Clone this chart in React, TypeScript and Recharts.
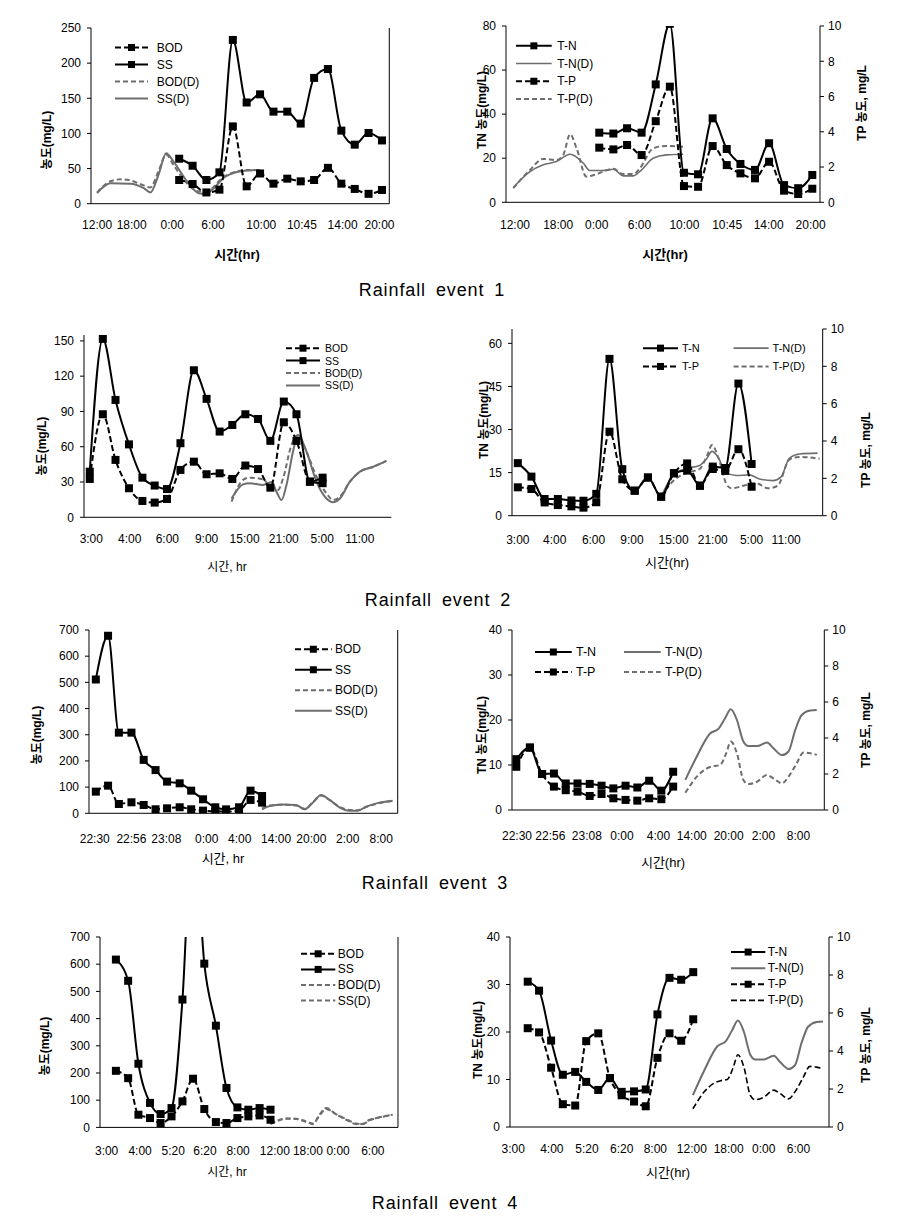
import React from 'react';
import { ComposedChart, Line, XAxis, YAxis, Legend } from 'recharts';

type Pt = [number, number];

// ---------- Rainfall event 1 : BOD / SS ----------
const ev1OrgTickPos = [0.15, 1.0, 2.0, 3.0, 4.19, 5.19, 6.19, 7.1];
const ev1TickLabels = ['12:00', '18:00', '0:00', '6:00', '10:00', '10:45', '14:00', '20:00'];
const ev1OrgSlots = [2.17, 2.5, 2.84, 3.16, 3.49, 3.83, 4.16, 4.49, 4.83, 5.16, 5.49, 5.83, 6.16, 6.49, 6.83, 7.16];
const ev1BOD = [33.7, 28, 16, 20, 110, 24.7, 43, 28.5, 35.6, 31.8, 33.7, 51, 28.5, 21, 14, 19.5];
const ev1SS = [64, 54, 33.7, 44.6, 233, 144, 155.6, 131, 131, 114, 179, 191.6, 104, 84, 100.6, 90];
const ev1SSD: Pt[] = [[0.15, 15], [0.48, 29], [0.97, 28.5], [1.3, 22], [1.46, 16], [1.66, 41], [1.85, 71.6], [2.03, 60], [2.36, 32], [2.65, 15], [2.81, 14], [3.02, 22], [3.26, 36.5], [3.59, 45], [3.92, 47.4], [4.16, 48]];
const ev1BODD: Pt[] = [[0.15, 16], [0.48, 32], [0.72, 34.6], [0.97, 33], [1.3, 26], [1.46, 23], [1.66, 46], [1.85, 70], [2.03, 55], [2.36, 29], [2.65, 17.5], [2.93, 20], [3.18, 34], [3.59, 46], [3.92, 48], [4.16, 48]];

// ---------- Rainfall event 1 : T-N / T-P ----------
const ev1NutTickPos = [0.21, 1.22, 2.12, 3.12, 4.17, 5.17, 6.14, 7.12];
const ev1NutSlots = [2.18, 2.51, 2.83, 3.17, 3.5, 3.83, 4.16, 4.49, 4.83, 5.16, 5.48, 5.82, 6.15, 6.5, 6.83, 7.16];
const ev1TN = [31.6, 31.2, 33.6, 31.6, 53.5, 81, 13.4, 12.7, 38.1, 24.2, 17.4, 14.7, 26.8, 7.8, 6.4, 12.4];
const ev1TP = [3.1, 3.0, 3.25, 2.68, 4.6, 6.56, 0.92, 0.88, 3.19, 2.11, 1.64, 1.36, 2.3, 0.66, 0.47, 0.77];
const ev1TND: Pt[] = [[0.17, 6.7], [0.56, 13.9], [0.87, 17], [1.18, 18.5], [1.5, 21.8], [1.81, 17.7], [1.96, 14.4], [2.27, 14.4], [2.51, 15], [2.74, 12], [2.98, 12], [3.13, 14], [3.44, 20], [3.75, 21.5], [4.14, 21.8]];
const ev1TPD: Pt[] = [[0.17, 0.8], [0.56, 1.83], [0.87, 2.46], [1.18, 2.4], [1.34, 2.7], [1.5, 3.86], [1.65, 3.06], [1.88, 1.46], [2.12, 1.6], [2.51, 1.9], [2.74, 1.6], [2.98, 1.6], [3.13, 1.93], [3.44, 3.06], [3.75, 3.2], [4.14, 3.15]];

// ---------- Rainfall event 2 : BOD / SS ----------
const ev2TickLabels = ['3:00', '4:00', '6:00', '9:00', '15:00', '21:00', '5:00', '11:00'];
const ev2OrgTickPos = [0.19, 1.19, 2.17, 3.19, 4.18, 5.2, 6.2, 7.18];
const ev2OrgSlots = [0.15, 0.49, 0.82, 1.17, 1.52, 1.84, 2.16, 2.51, 2.86, 3.19, 3.53, 3.86, 4.2, 4.53, 4.85, 5.2, 5.53, 5.88, 6.21];
const ev2SS = [38.8, 151.7, 99.8, 62, 33.7, 27, 24, 63, 125, 100.7, 72.9, 78.5, 87.6, 83.6, 65, 98.4, 87.6, 30.3, 33.7];
const ev2BOD = [32.6, 87.6, 48.8, 24.7, 13.9, 12.5, 15.6, 40.3, 47.3, 36.6, 37.4, 32.6, 44, 41, 25.2, 80.8, 65, 30.3, 29];
const ev2SSD: Pt[] = [[3.84, 16], [4.14, 28], [4.31, 29], [4.66, 27.5], [4.88, 30], [5.01, 21.8], [5.14, 14.7], [5.27, 27.5], [5.44, 55.9], [5.57, 70], [5.79, 55.9], [6.05, 30.3], [6.31, 16], [6.48, 12.8], [6.66, 16], [6.92, 30.3], [7.18, 38.8], [7.53, 43], [7.87, 48]];
const ev2BODD: Pt[] = [[3.84, 13.3], [4.14, 31.8], [4.31, 33.7], [4.66, 32.3], [4.88, 24.7], [5.05, 23.2], [5.18, 33], [5.4, 61.5], [5.57, 70], [5.79, 55.9], [6.05, 34.6], [6.31, 20.4], [6.48, 14.7], [6.66, 17.6], [6.92, 30.3], [7.18, 38.8], [7.53, 43], [7.87, 48]];

// ---------- Rainfall event 2 : T-N / T-P ----------
const ev2NutTickPos = [0.15, 1.1, 2.1, 3.09, 4.16, 5.17, 6.17, 7.06];
const ev2NutSlots = [0.15, 0.5, 0.84, 1.18, 1.53, 1.84, 2.17, 2.51, 2.84, 3.16, 3.5, 3.84, 4.17, 4.51, 4.84, 5.17, 5.49, 5.83, 6.17];
const ev2TN = [18.3, 13.6, 5.8, 5.8, 5.3, 5.2, 7.6, 54.6, 16.2, 8.7, 13.3, 6.6, 14.8, 15.7, 10.5, 17.1, 16.6, 46, 18];
const ev2TP = [1.52, 1.43, 0.71, 0.57, 0.5, 0.43, 0.72, 4.5, 1.95, 1.34, 2.04, 1.02, 2.27, 2.8, 1.6, 2.5, 2.4, 3.56, 1.55];
const ev2TND: Pt[] = [[3.84, 6.6], [4.17, 14.4], [4.51, 16.5], [4.83, 17.5], [5.02, 20], [5.15, 22.4], [5.3, 20.5], [5.51, 15], [5.77, 14], [6.11, 14.2], [6.37, 12.8], [6.72, 12.2], [6.93, 13.5], [7.14, 20], [7.4, 21.5], [7.87, 21.8]];
const ev2TPD: Pt[] = [[3.84, 1.02], [4.17, 1.9], [4.51, 2.3], [4.83, 2.5], [5.02, 3.2], [5.15, 3.78], [5.33, 3.0], [5.51, 1.74], [5.64, 1.47], [6.03, 1.64], [6.29, 1.74], [6.59, 1.47], [6.84, 1.6], [7.14, 3.0], [7.4, 3.15], [7.92, 3.05]];

// ---------- Rainfall event 3 : BOD / SS ----------
const ev3TickLabels = ['22:30', '22:56', '23:08', '0:00', '4:00', '14:00', '20:00', '2:00', '8:00'];
const ev3OrgTickPos = [0.16, 1.18, 2.15, 3.27, 4.19, 5.2, 6.18, 7.19, 8.12];
const ev3OrgSlots = [0.19, 0.53, 0.83, 1.18, 1.52, 1.85, 2.17, 2.52, 2.84, 3.17, 3.51, 3.81, 4.17, 4.49, 4.81];
const ev3SS = [511, 678, 308, 308, 204, 165, 121, 114.5, 86.5, 53.5, 23, 15, 23, 86.5, 66];
const ev3BOD = [82.7, 105.6, 35.6, 42, 31.8, 15.3, 19, 23, 15.3, 10.2, 6.4, 6.4, 10.2, 51, 40.7];
const ev3SSD: Pt[] = [[4.81, 15], [5.02, 28], [5.39, 34], [5.76, 32], [5.99, 15], [6.22, 40.7], [6.45, 70], [6.69, 51], [6.96, 23], [7.24, 10], [7.47, 10], [7.7, 25], [8.07, 40.7], [8.44, 48]];
const ev3BODD: Pt[] = [[4.81, 18], [5.02, 30], [5.39, 33], [5.76, 30], [5.99, 17], [6.22, 42], [6.45, 68], [6.69, 50], [6.96, 25], [7.24, 13], [7.47, 12], [7.7, 24], [8.07, 39], [8.44, 47]];

// ---------- Rainfall event 3 : T-N / T-P ----------
const ev3NutTickPos = [0.14, 1.07, 2.09, 3.07, 4.09, 5.02, 6.05, 7.02, 8.0];
const ev3NutSlots = [0.12, 0.5, 0.84, 1.17, 1.5, 1.83, 2.17, 2.5, 2.83, 3.17, 3.5, 3.83, 4.17, 4.5];
const ev3TN = [11.3, 13.9, 8, 8.1, 5.9, 5.9, 5.8, 5.4, 4.8, 5.4, 5, 6.5, 4.3, 8.5];
const ev3TP = [2.4, 3.46, 2.0, 1.3, 1.1, 1.02, 0.78, 0.89, 0.65, 0.56, 0.52, 0.65, 0.6, 1.3];
const ev3TND: Pt[] = [[4.84, 6.7], [5.16, 11.9], [5.53, 17], [5.77, 18.1], [5.95, 20.4], [6.11, 22.4], [6.28, 20], [6.46, 15.2], [6.6, 14.2], [6.84, 14.2], [7.12, 15], [7.3, 13.7], [7.54, 12.2], [7.72, 13], [7.91, 17.8], [8.09, 21.1], [8.33, 22.1], [8.51, 22.2]];
const ev3TPD: Pt[] = [[4.84, 0.96], [5.16, 1.85], [5.44, 2.31], [5.63, 2.44], [5.81, 2.5], [5.98, 3.15], [6.11, 3.8], [6.28, 3.15], [6.46, 1.67], [6.6, 1.44], [6.84, 1.57], [7.12, 1.94], [7.3, 1.76], [7.54, 1.48], [7.72, 1.85], [7.95, 2.6], [8.14, 3.19], [8.33, 3.15], [8.51, 3.06]];

// ---------- Rainfall event 4 : BOD / SS ----------
const ev4TickLabels = ['3:00', '4:00', '5:20', '6:20', '8:00', '12:00', '18:00', '0:00', '6:00'];
const ev4OrgTickPos = [0.2, 1.21, 2.21, 3.17, 4.17, 5.28, 6.28, 7.19, 8.24];
const ev4OrgSlots = [0.48, 0.85, 1.16, 1.51, 1.83, 2.16, 2.49, 2.81, 3.15, 3.5, 3.82, 4.15, 4.48, 4.82, 5.15];
const ev4SS = [617, 539, 234, 90, 49, 71, 470, 1150, 602, 374, 145, 73.5, 65, 71, 65];
const ev4BOD = [208, 181, 46.6, 34.3, 16, 40.5, 95.6, 179, 67.4, 19.6, 16, 34.3, 40.5, 44, 28];
const ev4SSD: Pt[] = [[5.15, 12], [5.33, 22], [5.63, 32], [5.93, 32], [6.23, 22], [6.43, 12], [6.63, 46.6], [6.83, 71], [7.14, 46.6], [7.44, 28], [7.74, 12], [7.94, 13.5], [8.14, 28], [8.44, 36.8], [8.84, 46.6]];
const ev4BODD: Pt[] = [[5.15, 14], [5.33, 24], [5.63, 33], [5.93, 31], [6.23, 20], [6.43, 14], [6.63, 44], [6.83, 68], [7.14, 48], [7.44, 30], [7.74, 14], [7.94, 12], [8.14, 26], [8.44, 37], [8.84, 47]];

// ---------- Rainfall event 4 : T-N / T-P ----------
const ev4NutTickPos = [0.09, 1.18, 2.17, 3.15, 4.1, 5.13, 6.17, 7.16, 8.14];
const ev4NutSlots = [0.5, 0.82, 1.16, 1.49, 1.84, 2.15, 2.49, 2.82, 3.15, 3.5, 3.83, 4.16, 4.5, 4.83, 5.17];
const ev4TN = [30.6, 28.7, 18.2, 11.0, 11.6, 9.5, 7.8, 10.3, 7.4, 7.5, 7.9, 23.7, 31.4, 31, 32.6];
const ev4TP = [5.2, 4.98, 3.12, 1.2, 1.13, 4.52, 4.93, 2.57, 1.67, 1.34, 1.09, 3.64, 4.93, 4.54, 5.67];
const ev4TND: Pt[] = [[5.16, 6.7], [5.48, 11.9], [5.85, 17], [6.09, 18.1], [6.27, 20.4], [6.43, 22.4], [6.6, 20], [6.78, 15.2], [6.92, 14.2], [7.16, 14.2], [7.44, 15], [7.62, 13.7], [7.86, 12.2], [8.04, 13], [8.23, 17.8], [8.41, 21.1], [8.65, 22.1], [8.83, 22.2]];
const ev4TPD: Pt[] = [[5.16, 0.96], [5.48, 1.85], [5.76, 2.31], [5.95, 2.44], [6.13, 2.5], [6.3, 3.15], [6.43, 3.8], [6.6, 3.15], [6.78, 1.67], [6.92, 1.44], [7.16, 1.57], [7.44, 1.94], [7.62, 1.76], [7.86, 1.48], [8.04, 1.85], [8.27, 2.6], [8.46, 3.19], [8.65, 3.15], [8.83, 3.06]];

// ---------- axis value ticks ----------
const orgTicks250 = [0, 50, 100, 150, 200, 250];
const orgTicks150 = [0, 30, 60, 90, 120, 150];
const orgTicks700 = [0, 100, 200, 300, 400, 500, 600, 700];
const tnTicks80 = [0, 20, 40, 60, 80];
const tnTicks60 = [0, 15, 30, 45, 60];
const tnTicks40 = [0, 10, 20, 30, 40];
const tpTicks10 = [0, 2, 4, 6, 8, 10];

// ================= rendering =================
const FONT = '"Liberation Sans", Arial, "Noto Sans CJK KR", sans-serif';
const BLACK = '#000';
const GRAY = '#6e6e6e';
const DASH_B = '6 3';
const DASH_G = '5 3';

type Series = { name: string; rows: { x: number; y: number }[]; axis: 'L' | 'R'; color: string; dash?: string; marker?: boolean; width?: number };
type LegendItem = { name: string; color: string; dash?: string; marker?: boolean; width?: number };
type LegendCfg = { x: number; y: number; rowH: number; cols?: number; colW?: number; sampleW: number; gap: number; fontSize: number; items: LegendItem[] };

const fromPts = (pts: Pt[]) => pts.map(([x, y]) => ({ x, y }));
const zip = (xs: number[], ys: number[]) => xs.map((x, i) => ({ x, y: ys[i] }));

const squareDot = (size: number) => (props: any) => {
  const { cx, cy, index } = props;
  if (cx == null || cy == null || isNaN(cx) || isNaN(cy)) return <g key={`n${index}`} />;
  return <rect key={`d${index}`} x={cx - size / 2} y={cy - size / 2} width={size} height={size} fill={BLACK} />;
};

function LegendBox({ lg }: { lg: LegendCfg }) {
  const cols = lg.cols || 1;
  const rows = Math.ceil(lg.items.length / cols);
  const w = (cols - 1) * (lg.colW || 0) + lg.sampleW + lg.gap + 70;
  const h = rows * lg.rowH;
  return (
    <svg width={w} height={h} style={{ overflow: 'visible', display: 'block' }}>
      {lg.items.map((it, i) => {
        const c = i % cols;
        const r = Math.floor(i / cols);
        const x0 = c * (lg.colW || 0);
        const y0 = r * lg.rowH + lg.rowH / 2;
        return (
          <g key={it.name}>
            <line x1={x0} x2={x0 + lg.sampleW} y1={y0} y2={y0} stroke={it.color} strokeWidth={it.width || 2} strokeDasharray={it.dash} />
            {it.marker && <rect x={x0 + lg.sampleW / 2 - 3.5} y={y0 - 3.5} width={7} height={7} fill={BLACK} />}
            <text x={x0 + lg.sampleW + lg.gap} y={y0} dominantBaseline="central" fontSize={lg.fontSize} fontFamily={FONT} fill="#000">{it.name}</text>
          </g>
        );
      })}
    </svg>
  );
}

type PanelProps = {
  plot: { l: number; t: number; r: number; b: number };
  xMax: number;
  tickPos: number[];
  tickLabels: string[];
  tickDy: number;
  yL: { max: number; ticks: number[] };
  yR?: { max: number; ticks: number[] };
  box?: boolean;
  series: Series[];
  legend: LegendCfg;
};

function Panel(p: PanelProps) {
  const wL = 50, wR = 45, mT = 12, hX = 40;
  const plotW = p.plot.r - p.plot.l;
  const plotH = p.plot.b - p.plot.t;
  const hasRight = !!p.yR || !!p.box;
  const width = wL + plotW + wR;
  const height = mT + plotH + hX;
  const left = p.plot.l - wL;
  const top = p.plot.t - mT;
  const marks: number[] = [];
  for (let i = 0; i <= Math.floor(p.xMax + 0.02); i++) marks.push(i);
  const tickStyle = { fill: '#000', fontSize: 12, fontFamily: FONT };
  const lg = p.legend;
  const lgRows = Math.ceil(lg.items.length / (lg.cols || 1));
  return (
    <div style={{ position: 'absolute', left, top }}>
      <ComposedChart width={width} height={height} margin={{ top: mT, right: hasRight ? 0 : wR, bottom: 0, left: 0 }}>
        <XAxis xAxisId="marks" type="number" dataKey="x" domain={[0, p.xMax]} ticks={marks} interval={0} tick={false} tickSize={4} tickLine={{ stroke: '#000' }} axisLine={false} height={0} allowDataOverflow />
        <XAxis xAxisId="main" type="number" dataKey="x" domain={[0, p.xMax]} ticks={p.tickPos} interval={0} tickLine={false} tickSize={0} tickMargin={p.tickDy - 4.3}
          tickFormatter={(_v: any, i: number) => p.tickLabels[i]} tick={tickStyle} axisLine={{ stroke: '#000', strokeWidth: 1 }} height={hX} allowDataOverflow />
        {p.box && <XAxis xAxisId="top" orientation="top" type="number" domain={[0, 1]} tick={false} tickLine={false} height={0} axisLine={{ stroke: '#000' }} allowDataOverflow />}
        <YAxis yAxisId="L" type="number" domain={[0, p.yL.max]} ticks={p.yL.ticks} interval={0} allowDataOverflow width={wL} tickSize={4} tickMargin={6}
          tick={tickStyle} axisLine={{ stroke: '#000' }} tickLine={{ stroke: '#000' }} />
        {p.yR ? (
          <YAxis yAxisId="R" orientation="right" type="number" domain={[0, p.yR.max]} ticks={p.yR.ticks} interval={0} allowDataOverflow width={wR} tickSize={4} tickMargin={4}
            tick={tickStyle} axisLine={{ stroke: '#000' }} tickLine={{ stroke: '#000' }} />
        ) : p.box ? (
          <YAxis yAxisId="R" orientation="right" type="number" domain={[0, 1]} tick={false} tickLine={false} width={wR} axisLine={{ stroke: '#000' }} allowDataOverflow />
        ) : null}
        {p.series.map((s) => (
          <Line key={s.name} name={s.name} data={s.rows} dataKey="y" xAxisId="main" yAxisId={s.axis} type="monotone" stroke={s.color}
            strokeWidth={s.width || 2} strokeDasharray={s.dash} dot={s.marker ? squareDot(8) : false} activeDot={false} isAnimationActive={false} />
        ))}
        <Legend layout="vertical" align="center" verticalAlign="middle"
          wrapperStyle={{ left: lg.x - left, top: lg.y - lg.rowH / 2 - top, width: 220, height: lgRows * lg.rowH }}
          content={() => <LegendBox lg={lg} />} />
      </ComposedChart>
    </div>
  );
}

const orgLegend = (x: number, y: number, rowH: number, sampleW: number, gap: number, fontSize: number, ssdDash?: string): LegendCfg => ({
  x, y, rowH, sampleW, gap, fontSize,
  items: [
    { name: 'BOD', color: BLACK, dash: DASH_B, marker: true },
    { name: 'SS', color: BLACK, marker: true },
    { name: 'BOD(D)', color: GRAY, dash: DASH_G },
    { name: 'SS(D)', color: GRAY, dash: ssdDash },
  ],
});

function Txt({ x, y, text, size, bold, rotate, spacing }: { x: number; y: number; text: string; size: number; bold?: boolean; rotate?: boolean; spacing?: boolean }) {
  return (
    <div style={{
      position: 'absolute', left: x, top: y, transform: `translate(-50%, -50%)${rotate ? ' rotate(-90deg)' : ''}`,
      whiteSpace: 'nowrap', fontFamily: FONT, fontSize: size, fontWeight: bold ? 'bold' : 'normal', color: '#000', lineHeight: 1,
      letterSpacing: spacing ? '0.9px' : undefined, wordSpacing: spacing ? '4px' : undefined,
    }}>{text}</div>
  );
}

export default function App() {
  return (
    <div style={{ position: 'absolute', left: 0, top: 0, width: 917, height: 1228, background: '#fff' }}>
      {/* Event 1 organics */}
      <Panel plot={{ l: 90.7, t: 28.3, r: 389, b: 204 }} xMax={7.34} tickPos={ev1OrgTickPos} tickLabels={ev1TickLabels} tickDy={21}
        yL={{ max: 250, ticks: orgTicks250 }} box
        series={[
          { name: 'SS(D)', rows: fromPts(ev1SSD), axis: 'L', color: GRAY },
          { name: 'BOD(D)', rows: fromPts(ev1BODD), axis: 'L', color: GRAY, dash: DASH_G },
          { name: 'BOD', rows: zip(ev1OrgSlots, ev1BOD), axis: 'L', color: BLACK, dash: DASH_B, marker: true },
          { name: 'SS', rows: zip(ev1OrgSlots, ev1SS), axis: 'L', color: BLACK, marker: true },
        ]}
        legend={orgLegend(115, 47.7, 17, 33, 8.7, 12)} />
      {/* Event 1 nutrients */}
      <Panel plot={{ l: 506, t: 26, r: 820, b: 202.3 }} xMax={7.34} tickPos={ev1NutTickPos} tickLabels={ev1TickLabels} tickDy={22}
        yL={{ max: 80, ticks: tnTicks80 }} yR={{ max: 10, ticks: tpTicks10 }}
        series={[
          { name: 'T-N(D)', rows: fromPts(ev1TND), axis: 'L', color: GRAY, width: 1.6 },
          { name: 'T-P(D)', rows: fromPts(ev1TPD), axis: 'R', color: GRAY, dash: DASH_G },
          { name: 'T-P', rows: zip(ev1NutSlots, ev1TP), axis: 'R', color: BLACK, dash: DASH_B, marker: true },
          { name: 'T-N', rows: zip(ev1NutSlots, ev1TN), axis: 'L', color: BLACK, marker: true },
        ]}
        legend={{ x: 516, y: 45.7, rowH: 17.7, sampleW: 35.7, gap: 5.6, fontSize: 12, items: [
          { name: 'T-N', color: BLACK, marker: true },
          { name: 'T-N(D)', color: GRAY, width: 1.6 },
          { name: 'T-P', color: BLACK, dash: DASH_B, marker: true },
          { name: 'T-P(D)', color: GRAY, dash: DASH_G },
        ] }} />
      {/* Event 2 organics */}
      <Panel plot={{ l: 84.3, t: 335, r: 391.7, b: 517.3 }} xMax={8} tickPos={ev2OrgTickPos} tickLabels={ev2TickLabels} tickDy={21}
        yL={{ max: 155, ticks: orgTicks150 }}
        series={[
          { name: 'SS(D)', rows: fromPts(ev2SSD), axis: 'L', color: GRAY },
          { name: 'BOD(D)', rows: fromPts(ev2BODD), axis: 'L', color: GRAY, dash: DASH_G },
          { name: 'BOD', rows: zip(ev2OrgSlots, ev2BOD), axis: 'L', color: BLACK, dash: DASH_B, marker: true },
          { name: 'SS', rows: zip(ev2OrgSlots, ev2SS), axis: 'L', color: BLACK, marker: true },
        ]}
        legend={orgLegend(286, 347.7, 12.4, 34, 5, 10.5)} />
      {/* Event 2 nutrients */}
      <Panel plot={{ l: 512.3, t: 329, r: 823, b: 515.7 }} xMax={8} tickPos={ev2NutTickPos} tickLabels={ev2TickLabels} tickDy={24}
        yL={{ max: 65, ticks: tnTicks60 }} yR={{ max: 10, ticks: tpTicks10 }}
        series={[
          { name: 'T-N(D)', rows: fromPts(ev2TND), axis: 'L', color: GRAY, width: 1.6 },
          { name: 'T-P(D)', rows: fromPts(ev2TPD), axis: 'R', color: GRAY, dash: DASH_G },
          { name: 'T-P', rows: zip(ev2NutSlots, ev2TP), axis: 'R', color: BLACK, dash: DASH_B, marker: true },
          { name: 'T-N', rows: zip(ev2NutSlots, ev2TN), axis: 'L', color: BLACK, marker: true },
        ]}
        legend={{ x: 642.7, y: 347.7, rowH: 18.3, cols: 2, colW: 90.6, sampleW: 35, gap: 4, fontSize: 11, items: [
          { name: 'T-N', color: BLACK, marker: true },
          { name: 'T-N(D)', color: GRAY, width: 1.6 },
          { name: 'T-P', color: BLACK, dash: DASH_B, marker: true },
          { name: 'T-P(D)', color: GRAY, dash: DASH_G },
        ] }} />
      {/* Event 3 organics */}
      <Panel plot={{ l: 89.3, t: 630, r: 398, b: 813.3 }} xMax={8.58} tickPos={ev3OrgTickPos} tickLabels={ev3TickLabels} tickDy={25}
        yL={{ max: 700, ticks: orgTicks700 }} box
        series={[
          { name: 'SS(D)', rows: fromPts(ev3SSD), axis: 'L', color: GRAY },
          { name: 'BOD(D)', rows: fromPts(ev3BODD), axis: 'L', color: GRAY, dash: DASH_G },
          { name: 'BOD', rows: zip(ev3OrgSlots, ev3BOD), axis: 'L', color: BLACK, dash: DASH_B, marker: true },
          { name: 'SS', rows: zip(ev3OrgSlots, ev3SS), axis: 'L', color: BLACK, marker: true },
        ]}
        legend={orgLegend(295, 649.3, 20.5, 36.7, 3.3, 12)} />
      {/* Event 3 nutrients */}
      <Panel plot={{ l: 511.7, t: 630, r: 824, b: 810 }} xMax={8.72} tickPos={ev3NutTickPos} tickLabels={ev3TickLabels} tickDy={26}
        yL={{ max: 40, ticks: tnTicks40 }} yR={{ max: 10, ticks: tpTicks10 }} box
        series={[
          { name: 'T-N(D)', rows: fromPts(ev3TND), axis: 'L', color: GRAY },
          { name: 'T-P(D)', rows: fromPts(ev3TPD), axis: 'R', color: GRAY, dash: DASH_G },
          { name: 'T-P', rows: zip(ev3NutSlots, ev3TP), axis: 'R', color: BLACK, dash: DASH_B, marker: true },
          { name: 'T-N', rows: zip(ev3NutSlots, ev3TN), axis: 'L', color: BLACK, marker: true },
        ]}
        legend={{ x: 535, y: 651.7, rowH: 20, cols: 2, colW: 89, sampleW: 36.7, gap: 4.3, fontSize: 12.5, items: [
          { name: 'T-N', color: BLACK, marker: true },
          { name: 'T-N(D)', color: GRAY },
          { name: 'T-P', color: BLACK, dash: DASH_B, marker: true },
          { name: 'T-P(D)', color: GRAY, dash: DASH_G },
        ] }} />
      {/* Event 4 organics */}
      <Panel plot={{ l: 100, t: 937.3, r: 398, b: 1127.7 }} xMax={9} tickPos={ev4OrgTickPos} tickLabels={ev4TickLabels} tickDy={23}
        yL={{ max: 700, ticks: orgTicks700 }} box
        series={[
          { name: 'SS(D)', rows: fromPts(ev4SSD), axis: 'L', color: GRAY, dash: DASH_G },
          { name: 'BOD(D)', rows: fromPts(ev4BODD), axis: 'L', color: GRAY, dash: DASH_G },
          { name: 'BOD', rows: zip(ev4OrgSlots, ev4BOD), axis: 'L', color: BLACK, dash: DASH_B, marker: true },
          { name: 'SS', rows: zip(ev4OrgSlots, ev4SS), axis: 'L', color: BLACK, marker: true },
        ]}
        legend={orgLegend(300.7, 954.3, 15.6, 34.3, 2.5, 12, DASH_G)} />
      {/* Event 4 nutrients */}
      <Panel plot={{ l: 510, t: 936.7, r: 829, b: 1126.7 }} xMax={9} tickPos={ev4NutTickPos} tickLabels={ev4TickLabels} tickDy={22}
        yL={{ max: 40, ticks: tnTicks40 }} yR={{ max: 10, ticks: tpTicks10 }} box
        series={[
          { name: 'T-N(D)', rows: fromPts(ev4TND), axis: 'L', color: GRAY },
          { name: 'T-P(D)', rows: fromPts(ev4TPD), axis: 'R', color: BLACK, dash: DASH_B, width: 1.6 },
          { name: 'T-P', rows: zip(ev4NutSlots, ev4TP), axis: 'R', color: BLACK, dash: DASH_B, marker: true },
          { name: 'T-N', rows: zip(ev4NutSlots, ev4TN), axis: 'L', color: BLACK, marker: true },
        ]}
        legend={{ x: 730.7, y: 951.7, rowH: 16.1, sampleW: 34.3, gap: 2.5, fontSize: 12, items: [
          { name: 'T-N', color: BLACK, marker: true },
          { name: 'T-N(D)', color: GRAY },
          { name: 'T-P', color: BLACK, dash: DASH_B, marker: true },
          { name: 'T-P(D)', color: BLACK, dash: DASH_B, width: 1.6 },
        ] }} />

      {/* axis titles */}
      <Txt x={47} y={140} text="농도(mg/L)" size={12} bold rotate />
      <Txt x={237} y={254} text="시간(hr)" size={13} bold />
      <Txt x={482} y={110} text="TN 농도(mg/L)" size={12} bold rotate />
      <Txt x={862} y={103} text="TP 농도, mg/L" size={12} bold rotate />
      <Txt x={665} y={254} text="시간(hr)" size={13} bold />

      <Txt x={42} y={446} text="농도(mg/L)" size={12} bold rotate />
      <Txt x={227} y={567} text="시간, hr" size={12} />
      <Txt x={484} y={420} text="TN 농도(mg/L)" size={12} bold rotate />
      <Txt x={866} y={450} text="TP 농도, mg/L" size={12} bold rotate />
      <Txt x={667} y={562} text="시간(hr)" size={13} />

      <Txt x={37} y={735} text="농도(mg/L)" size={12} bold rotate />
      <Txt x={223} y={858} text="시간, hr" size={13} />
      <Txt x={482} y={735} text="TN 농도(mg/L)" size={12} bold rotate />
      <Txt x={866} y={730} text="TP 농도, mg/L" size={12} bold rotate />
      <Txt x={663} y={862} text="시간(hr)" size={13} />

      <Txt x={45} y={1046} text="농도(mg/L)" size={12} bold rotate />
      <Txt x={227} y={1172} text="시간, hr" size={12} />
      <Txt x={478} y={1040} text="TN 농도(mg/L)" size={12} bold rotate />
      <Txt x={866} y={1045} text="TP 농도, mg/L" size={12} bold rotate />
      <Txt x={668} y={1172} text="시간(hr)" size={13} />

      {/* captions */}
      <Txt x={432} y={290} text="Rainfall event 1" size={18} spacing />
      <Txt x={438} y={600} text="Rainfall event 2" size={18} spacing />
      <Txt x={435} y={883} text="Rainfall event 3" size={18} spacing />
      <Txt x={445} y={1203} text="Rainfall event 4" size={18} spacing />
    </div>
  );
}
